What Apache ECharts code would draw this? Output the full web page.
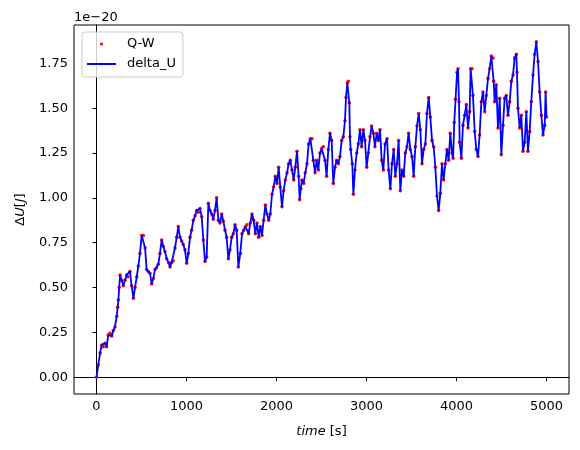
<!DOCTYPE html>
<html>
<head>
<meta charset="utf-8">
<script src="https://cdn.jsdelivr.net/npm/echarts@6/dist/echarts.min.js"></script>
<style>html,body{margin:0;padding:0;background:#fff}#c{width:580px;height:450px}</style>
</head>
<body>
<div id="c"></div>
<script>
// time [s]
var times = [0,20,40,58,75,95,113,130,150,170,187,205,225,235,243,252,262,280,298,317,335,350,372,390,410,428,447,465,483,502,520,540,557,575,594,613,631,650,668,687,705,724,742,761,780,800,817,835,853,872,891,909,928,946,964,983,1002,1020,1039,1057,1076,1095,1113,1132,1150,1169,1187,1206,1224,1243,1261,1280,1298,1317,1335,1354,1372,1391,1409,1428,1446,1465,1483,1502,1520,1539,1557,1576,1598,1617,1635,1654,1672,1691,1709,1728,1746,1765,1783,1802,1820,1839,1857,1876,1894,1913,1931,1950,1968,1987,2006,2024,2042,2061,2079,2098,2117,2135,2154,2172,2191,2209,2228,2246,2257,2270,2283,2302,2320,2339,2357,2376,2394,2409,2428,2446,2465,2483,2502,2520,2539,2557,2576,2594,2613,2631,2650,2668,2687,2705,2724,2742,2761,2772,2787,2798,2809,2816,2824,2842,2854,2872,2891,2909,2928,2946,2965,2983,3002,3020,3039,3057,3076,3094,3113,3131,3150,3169,3187,3206,3228,3246,3265,3283,3302,3320,3339,3357,3376,3394,3413,3431,3450,3468,3487,3506,3524,3543,3561,3580,3598,3617,3635,3654,3672,3691,3709,3728,3746,3765,3783,3802,3820,3839,3857,3876,3894,3913,3931,3950,3962,3975,3990,4006,4017,4028,4035,4054,4072,4091,4109,4128,4146,4157,4172,4183,4202,4220,4239,4257,4276,4294,4313,4331,4350,4368,4387,4406,4413,4424,4442,4461,4480,4498,4517,4535,4553,4572,4591,4609,4628,4646,4665,4672,4683,4702,4720,4739,4757,4776,4794,4813,4831,4850,4868,4887,4906,4924,4943,4961,4980,4990,5000];
// Q-W values, in units of 1e-20 J
var qwValues = [0.00,0.07,0.135,0.18,0.17,0.19,0.17,0.235,0.245,0.23,0.26,0.28,0.34,0.39,0.43,0.50,0.57,0.54,0.51,0.54,0.57,0.56,0.59,0.51,0.44,0.50,0.56,0.62,0.69,0.79,0.79,0.72,0.60,0.59,0.58,0.52,0.55,0.60,0.61,0.63,0.69,0.765,0.73,0.70,0.66,0.64,0.615,0.64,0.65,0.72,0.78,0.84,0.78,0.76,0.74,0.71,0.635,0.69,0.78,0.82,0.875,0.90,0.93,0.92,0.94,0.895,0.765,0.645,0.67,0.97,0.93,0.91,0.88,0.93,1.00,0.875,0.86,0.91,0.87,0.82,0.78,0.66,0.71,0.78,0.80,0.85,0.82,0.615,0.69,0.80,0.82,0.84,0.85,0.80,0.86,0.91,0.875,0.80,0.86,0.78,0.84,0.79,0.875,0.96,0.91,0.875,0.91,1.02,1.06,1.12,1.08,1.17,1.06,0.95,1.04,1.10,1.14,1.19,1.21,1.155,1.10,1.17,1.26,1.12,0.99,1.05,1.10,1.08,1.14,1.19,1.30,1.33,1.33,1.21,1.14,1.21,1.155,1.25,1.275,1.285,1.21,1.12,1.27,1.36,1.32,1.08,1.17,1.21,1.19,1.23,1.32,1.34,1.43,1.56,1.64,1.65,1.53,1.34,1.27,1.19,1.02,1.155,1.25,1.30,1.38,1.285,1.38,1.32,1.17,1.25,1.34,1.40,1.36,1.285,1.36,1.32,1.38,1.21,1.155,1.30,1.33,1.155,1.05,1.19,1.27,1.12,1.19,1.32,1.04,1.155,1.12,1.25,1.285,1.36,1.27,1.23,1.12,1.285,1.40,1.47,1.38,1.19,1.27,1.30,1.47,1.56,1.45,1.32,1.285,1.17,1.01,0.93,1.025,1.19,1.10,1.19,1.27,1.21,1.36,1.25,1.22,1.42,1.55,1.70,1.72,1.535,1.31,1.22,1.405,1.46,1.52,1.39,1.48,1.72,1.72,1.57,1.37,1.27,1.23,1.35,1.535,1.59,1.48,1.57,1.665,1.72,1.79,1.78,1.65,1.535,1.63,1.39,1.555,1.24,1.405,1.555,1.57,1.46,1.535,1.65,1.685,1.78,1.80,1.70,1.50,1.39,1.46,1.26,1.31,1.48,1.26,1.37,1.535,1.685,1.80,1.87,1.76,1.59,1.46,1.35,1.405,1.59,1.45];
// delta_U values (coincide with Q-W at this resolution)
var deltaUValues = qwValues.slice();
var xTicks = [0,1000,2000,3000,4000,5000];
var yTicks = [0,0.25,0.5,0.75,1.0,1.25,1.5,1.75];

function pairs(xs, ys){ var out=[]; for(var i=0;i<xs.length;i++){ out.push([xs[i], ys[i]]); } return out; }

var FONT = 'DejaVu Sans';
var chart = echarts.init(document.getElementById('c'), null, {renderer:'canvas'});
chart.setOption({
  animation:false,
  backgroundColor:'#ffffff',
  grid:{left:74, top:25, right:11, bottom:56, show:true, borderColor:'#000', borderWidth:1, backgroundColor:'transparent'},
  xAxis:{
    type:'value', min:-250, max:5250,
    axisLine:{show:true, lineStyle:{color:'#000', width:1}},
    axisTick:{show:true, inside:false, length:4, lineStyle:{color:'#000'}, customValues:xTicks},
    axisLabel:{color:'#000', fontFamily:FONT, fontSize:13, margin:6, customValues:xTicks, formatter:function(v){return String(Math.round(v));}},
    splitLine:{show:false},
    name:'{i|time} [s]', nameLocation:'middle', nameGap:31,
    nameTextStyle:{color:'#000', fontFamily:FONT, fontSize:13, rich:{i:{fontStyle:'italic', fontFamily:FONT, fontSize:13, color:'#000'}}}
  },
  yAxis:{
    type:'value', min:-0.0935, max:1.9635,
    axisLine:{show:true, lineStyle:{color:'#000', width:1}},
    axisTick:{show:true, inside:false, length:4, lineStyle:{color:'#000'}, customValues:yTicks},
    axisLabel:{color:'#000', fontFamily:FONT, fontSize:13, margin:6, customValues:yTicks, formatter:function(v){return v.toFixed(2);}},
    splitLine:{show:false},
    name:'Δ{i|U}[{i|J}]', nameLocation:'middle', nameGap:47, nameRotate:90,
    nameTextStyle:{color:'#000', fontFamily:FONT, fontSize:13, rich:{i:{fontStyle:'italic', fontFamily:FONT, fontSize:13, color:'#000'}}}
  },
  legend:{
    orient:'vertical', left:82, top:32,
    padding:[4,7,5,4], itemGap:4, itemWidth:29, itemHeight:4,
    borderColor:'#cccccc', borderWidth:1, borderRadius:3,
    backgroundColor:'rgba(255,255,255,0.8)',
    textStyle:{color:'#000', fontFamily:FONT, fontSize:13, lineHeight:16, padding:[0,0,0,6]},
    data:[{name:'Q-W'}, {name:'delta_U', itemStyle:{opacity:0}}]
  },
  graphic:[
    {type:'text', left:74, top:11, style:{text:'1e\u221220', fontFamily:FONT, fontSize:13, fill:'#000'}}
  ],
  series:[
    {name:'Q-W', type:'line', data:pairs(times, qwValues), symbol:'circle', symbolSize:3.5, showSymbol:true, showAllSymbol:true,
     itemStyle:{color:'#ff0000'}, lineStyle:{opacity:0, width:0, color:'#ff0000'}, z:2, silent:true},
    {name:'delta_U', type:'line', data:pairs(times, deltaUValues), symbol:'none', showSymbol:false,
     itemStyle:{color:'#0000ff'}, lineStyle:{color:'#0000ff', width:1.8}, z:3, silent:true}
  ]
});
</script>
</body>
</html>
